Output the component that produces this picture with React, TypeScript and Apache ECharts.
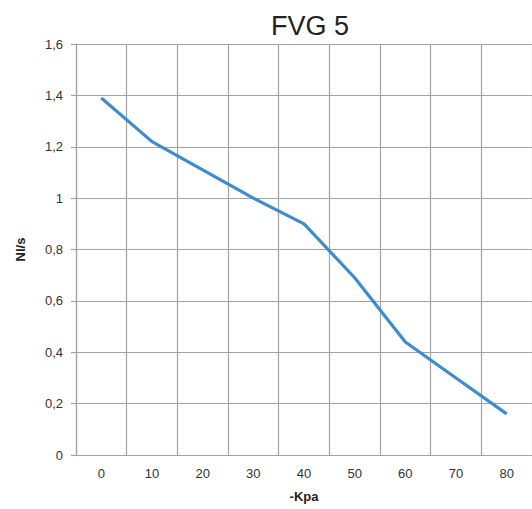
import React, { useEffect, useRef } from "react";
import * as echarts from "echarts";

const titleText = "FVG 5";
const xName = "-Kpa";
const yName = "Nl/s";
const categories = ["0", "10", "20", "30", "40", "50", "60", "70", "80"];
const flowValues = [1.39, 1.22, 1.11, 1.0, 0.9, 0.69, 0.44, 0.3, 0.16];
const yTickLabels = ["0", "0,2", "0,4", "0,6", "0,8", "1", "1,2", "1,4", "1,6"];

const FONT = "'Liberation Sans', Arial, sans-serif";
const GRID = "#a3a3a3";

export default function App() {
  const ref = useRef<HTMLDivElement>(null);
  useEffect(() => {
    if (!ref.current) return;
    const chart = echarts.init(ref.current, undefined, { renderer: "svg" });
    chart.setOption({
      animation: false,
      backgroundColor: "#ffffff",
      title: {
        text: titleText,
        left: 305,
        top: 7,
        textAlign: "center",
        textStyle: { fontFamily: FONT, fontSize: 27, fontWeight: "normal", color: "#222222" },
      },
      grid: { left: 76, right: -5, top: 44, bottom: 54, containLabel: false },
      xAxis: {
        type: "category",
        data: categories,
        boundaryGap: true,
        name: xName,
        nameLocation: "middle",
        nameGap: 35,
        nameTextStyle: { fontFamily: FONT, fontSize: 13, fontWeight: "bold", color: "#222222" },
        axisLine: { show: true, lineStyle: { color: GRID, width: 1.2 } },
        axisTick: { show: false },
        axisLabel: { fontFamily: FONT, fontSize: 13, color: "#333333", margin: 12 },
        splitLine: { show: true, lineStyle: { color: GRID, width: 1.2 } },
      },
      yAxis: {
        type: "value",
        min: 0,
        max: 1.6,
        interval: 0.2,
        name: yName,
        nameLocation: "middle",
        nameRotate: 90,
        nameGap: 49,
        nameTextStyle: { fontFamily: FONT, fontSize: 13, fontWeight: "bold", color: "#222222" },
        axisLine: { show: true, lineStyle: { color: GRID, width: 1.2 } },
        axisTick: { show: true, length: 5, lineStyle: { color: GRID, width: 1.2 } },
        axisLabel: {
          fontFamily: FONT,
          fontSize: 13,
          color: "#333333",
          margin: 13,
          formatter: (v: number) => yTickLabels[Math.round(v / 0.2)] ?? String(v),
        },
        splitLine: { show: true, lineStyle: { color: GRID, width: 1.2 } },
      },
      series: [
        {
          type: "line",
          data: flowValues,
          symbol: "none",
          lineStyle: { color: "#3d8bd0", width: 3.2 },
          itemStyle: { color: "#3d8bd0" },
        },
      ],
    });
    return () => chart.dispose();
  }, []);
  return <div ref={ref} style={{ width: 532, height: 509, position: "absolute", left: 0, top: 0 }} />;
}
